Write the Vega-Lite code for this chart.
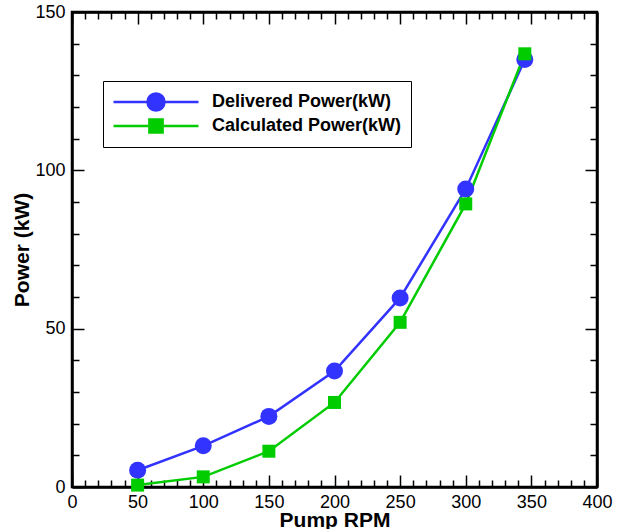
{
  "$schema": "https://vega.github.io/schema/vega-lite/v6.json",
  "width": 525,
  "height": 475,
  "autosize": {"type": "none"},
  "padding": {"left": 72, "top": 12, "right": 23, "bottom": 42},
  "background": "white",
  "config": {
    "font": "Liberation Sans",
    "view": {"stroke": "black", "strokeWidth": 2.5},
    "axis": {
      "grid": false,
      "domainColor": "black",
      "domainWidth": 2.5,
      "tickColor": "black",
      "tickWidth": 1.5,
      "labelFont": "Liberation Sans",
      "labelFontSize": 18,
      "labelColor": "black",
      "titleFont": "Liberation Sans",
      "titleFontSize": 21,
      "titleFontWeight": "bold",
      "titleColor": "black"
    },
    "legend": {
      "strokeColor": "black",
      "fillColor": "white",
      "padding": 9,
      "symbolSize": 7225,
      "clipHeight": 24,
      "rowPadding": 0,
      "labelFont": "Liberation Sans",
      "labelFontWeight": "bold",
      "labelFontSize": 18,
      "labelColor": "black",
      "labelOffset": 12,
      "labelLimit": 400,
      "symbolStrokeWidth": 2.5,
      "symbolOpacity": 1
    }
  },
  "data": {
    "values": [
      {"rpm": 50, "power": 5.3, "series": "Delivered Power(kW)"},
      {"rpm": 100, "power": 13.0, "series": "Delivered Power(kW)"},
      {"rpm": 150, "power": 22.3, "series": "Delivered Power(kW)"},
      {"rpm": 200, "power": 36.6, "series": "Delivered Power(kW)"},
      {"rpm": 250, "power": 59.7, "series": "Delivered Power(kW)"},
      {"rpm": 300, "power": 94.1, "series": "Delivered Power(kW)"},
      {"rpm": 345, "power": 135.0, "series": "Delivered Power(kW)"},
      {"rpm": 50, "power": 0.6, "series": "Calculated Power(kW)"},
      {"rpm": 100, "power": 3.2, "series": "Calculated Power(kW)"},
      {"rpm": 150, "power": 11.3, "series": "Calculated Power(kW)"},
      {"rpm": 200, "power": 26.7, "series": "Calculated Power(kW)"},
      {"rpm": 250, "power": 52.0, "series": "Calculated Power(kW)"},
      {"rpm": 300, "power": 89.4, "series": "Calculated Power(kW)"},
      {"rpm": 345, "power": 136.8, "series": "Calculated Power(kW)"}
    ]
  },
  "layer": [
    {
      "mark": {"type": "line", "strokeWidth": 2.5},
      "encoding": {
        "x": {
          "field": "rpm", "type": "quantitative",
          "scale": {"domain": [0, 400], "nice": false},
          "axis": {
            "orient": "bottom",
            "title": "Pump RPM",
            "titlePadding": -7,
            "values": [0,10,20,30,40,50,60,70,80,90,100,110,120,130,140,150,160,170,180,190,200,210,220,230,240,250,260,270,280,290,300,310,320,330,340,350,360,370,380,390,400],
            "labelExpr": "datum.value % 50 === 0 ? datum.label : ''",
            "tickSize": {"condition": {"test": "datum.value % 50 === 0", "value": -12}, "value": -7},
            "labelPadding": 18,
            "labelFlush": false,
            "labelOverlap": false
          }
        },
        "y": {
          "field": "power", "type": "quantitative",
          "scale": {"domain": [0, 150], "nice": false},
          "axis": {
            "orient": "left",
            "title": "Power (kW)",
            "titlePadding": 2,
            "values": [0,10,20,30,40,50,60,70,80,90,100,110,120,130,140,150],
            "labelExpr": "datum.value % 50 === 0 ? datum.label : ''",
            "tickSize": {"condition": {"test": "datum.value % 50 === 0", "value": -12}, "value": -7},
            "labelPadding": 19,
            "labelFlush": false,
            "labelOverlap": false
          }
        },
        "color": {
          "field": "series", "type": "nominal",
          "scale": {"range": ["#00cc00", "#3333ff"]},
          "legend": null
        }
      }
    },
    {
      "transform": [{"filter": {"field": "series", "equal": "Delivered Power(kW)"}}],
      "mark": {"type": "point", "shape": "circle", "size": 289, "filled": true, "opacity": 1},
      "encoding": {
        "x": {"field": "rpm", "type": "quantitative", "axis": null},
        "y": {"field": "power", "type": "quantitative", "axis": null},
        "color": {"field": "series", "type": "nominal", "legend": null}
      }
    },
    {
      "transform": [{"filter": {"field": "series", "equal": "Calculated Power(kW)"}}],
      "mark": {"type": "point", "shape": "square", "size": 169, "filled": true, "opacity": 1},
      "encoding": {
        "x": {"field": "rpm", "type": "quantitative", "axis": null},
        "y": {"field": "power", "type": "quantitative", "axis": null},
        "color": {"field": "series", "type": "nominal", "legend": null}
      }
    },
    {
      "transform": [{"filter": "datum.rpm < 0"}],
      "mark": {"type": "point", "filled": true, "strokeWidth": 2.5, "opacity": 1},
      "encoding": {
        "x": {
          "field": "rpm", "type": "quantitative",
          "axis": {
            "orient": "top",
            "title": null,
            "labels": false,
            "values": [0,10,20,30,40,50,60,70,80,90,100,110,120,130,140,150,160,170,180,190,200,210,220,230,240,250,260,270,280,290,300,310,320,330,340,350,360,370,380,390,400],
            "tickSize": {"condition": {"test": "datum.value % 50 === 0", "value": -12}, "value": -7}
          }
        },
        "y": {
          "field": "power", "type": "quantitative",
          "axis": {
            "orient": "right",
            "title": null,
            "labels": false,
            "values": [0,10,20,30,40,50,60,70,80,90,100,110,120,130,140,150],
            "tickSize": {"condition": {"test": "datum.value % 50 === 0", "value": -12}, "value": -7}
          }
        },
        "fill": {
          "field": "series", "type": "nominal",
          "scale": {"domain": ["Delivered Power(kW)", "Calculated Power(kW)"], "range": ["#3333ff", "#00cc00"]},
          "legend": {"orient": "none", "legendX": 31, "legendY": 69, "title": null}
        },
        "stroke": {
          "field": "series", "type": "nominal",
          "scale": {"domain": ["Delivered Power(kW)", "Calculated Power(kW)"], "range": ["#3333ff", "#00cc00"]},
          "legend": {"orient": "none", "legendX": 31, "legendY": 69, "title": null}
        },
        "shape": {
          "field": "series", "type": "nominal",
          "scale": {
            "domain": ["Delivered Power(kW)", "Calculated Power(kW)"],
            "range": [
              "M-1,0L1,0M0.2,0A0.2,0.2,0,1,1,-0.2,0A0.2,0.2,0,1,1,0.2,0Z",
              "M-1,0L1,0M-0.155,-0.155L0.155,-0.155L0.155,0.155L-0.155,0.155Z"
            ]
          },
          "legend": {"orient": "none", "legendX": 31, "legendY": 69, "title": null}
        }
      }
    }
  ],
  "resolve": {"axis": {"x": "independent", "y": "independent"}}
}
